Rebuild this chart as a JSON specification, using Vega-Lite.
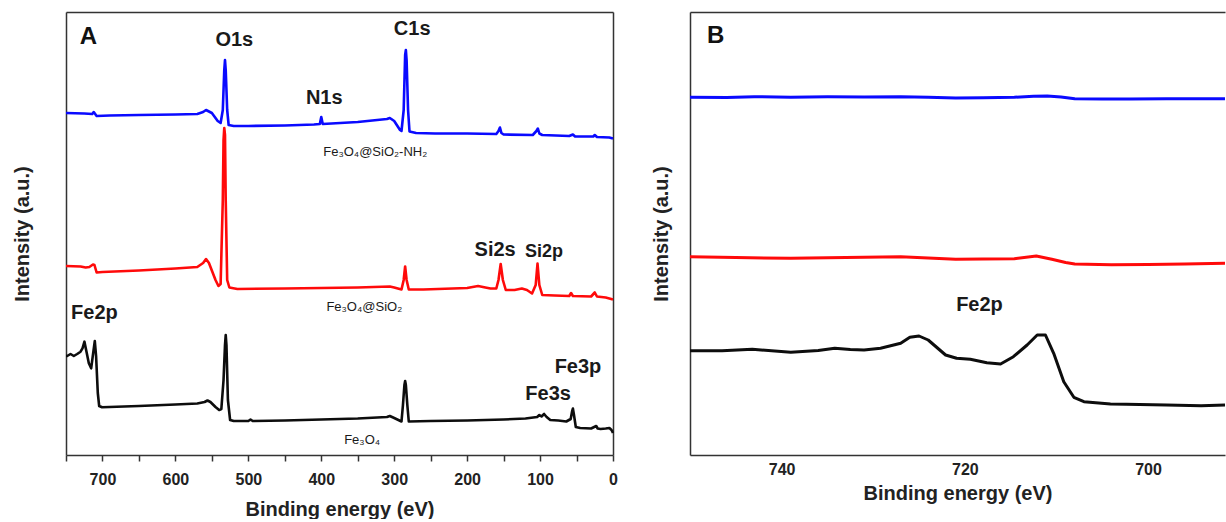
{
  "$schema": "https://vega.github.io/schema/vega-lite/v6.json",
  "padding": {"left": 12, "top": 12, "right": 0, "bottom": 0},
  "spacing": 33,
  "config": {
    "font": "Liberation Sans",
    "view": {"stroke": null},
    "axis": {
      "labelFont": "Liberation Sans", "labelFontWeight": "bold", "labelFontSize": 16, "labelColor": "#222",
      "titleFont": "Liberation Sans", "titleFontWeight": "bold", "titleFontSize": 20, "titleColor": "#222",
      "grid": false, "domainColor": "#333", "domainWidth": 1.5, "tickColor": "#333", "tickWidth": 1.5, "labelFlush": false
    }
  },
  "datasets": {
    "survey": [
      {"E":750,"I":342,"s":"NH2"},{"E":725,"I":341.5,"s":"NH2"},{"E":714,"I":341,"s":"NH2"},{"E":712,"I":343,"s":"NH2"},{"E":708,"I":339,"s":"NH2"},{"E":690,"I":339.5,"s":"NH2"},{"E":650,"I":340,"s":"NH2"},{"E":600,"I":340.5,"s":"NH2"},{"E":570,"I":341,"s":"NH2"},{"E":562,"I":343,"s":"NH2"},{"E":558,"I":345,"s":"NH2"},{"E":550,"I":342,"s":"NH2"},{"E":542,"I":334,"s":"NH2"},{"E":538,"I":332,"s":"NH2"},{"E":535,"I":345,"s":"NH2"},{"E":533,"I":385,"s":"NH2"},{"E":532,"I":395,"s":"NH2"},{"E":531,"I":385,"s":"NH2"},{"E":529,"I":345,"s":"NH2"},{"E":527,"I":330,"s":"NH2"},{"E":520,"I":329,"s":"NH2"},{"E":500,"I":329,"s":"NH2"},{"E":450,"I":329.5,"s":"NH2"},{"E":410,"I":330.5,"s":"NH2"},{"E":402,"I":331,"s":"NH2"},{"E":400,"I":338,"s":"NH2"},{"E":398,"I":331,"s":"NH2"},{"E":350,"I":333,"s":"NH2"},{"E":310,"I":336,"s":"NH2"},{"E":306,"I":337,"s":"NH2"},{"E":300,"I":334,"s":"NH2"},{"E":292,"I":325,"s":"NH2"},{"E":290,"I":324,"s":"NH2"},{"E":287,"I":345,"s":"NH2"},{"E":285,"I":400,"s":"NH2"},{"E":284,"I":405,"s":"NH2"},{"E":283,"I":395,"s":"NH2"},{"E":281,"I":345,"s":"NH2"},{"E":279,"I":323.5,"s":"NH2"},{"E":270,"I":322,"s":"NH2"},{"E":244,"I":321.5,"s":"NH2"},{"E":200,"I":321.5,"s":"NH2"},{"E":160,"I":321,"s":"NH2"},{"E":157,"I":324,"s":"NH2"},{"E":155,"I":327.5,"s":"NH2"},{"E":153,"I":322,"s":"NH2"},{"E":150,"I":320.5,"s":"NH2"},{"E":110,"I":320,"s":"NH2"},{"E":105,"I":324,"s":"NH2"},{"E":103,"I":326.5,"s":"NH2"},{"E":101,"I":321.5,"s":"NH2"},{"E":97,"I":320,"s":"NH2"},{"E":60,"I":319,"s":"NH2"},{"E":55,"I":320.5,"s":"NH2"},{"E":52,"I":318.5,"s":"NH2"},{"E":27,"I":318.5,"s":"NH2"},{"E":25,"I":320,"s":"NH2"},{"E":22,"I":318,"s":"NH2"},{"E":5,"I":317.5,"s":"NH2"},{"E":0,"I":316.5,"s":"NH2"},
      {"E":750,"I":189,"s":"SiO2"},{"E":730,"I":188.5,"s":"SiO2"},{"E":723,"I":187.5,"s":"SiO2"},{"E":718,"I":188,"s":"SiO2"},{"E":713,"I":190.5,"s":"SiO2"},{"E":711,"I":190,"s":"SiO2"},{"E":708,"I":182.5,"s":"SiO2"},{"E":700,"I":183,"s":"SiO2"},{"E":650,"I":184.5,"s":"SiO2"},{"E":600,"I":186.5,"s":"SiO2"},{"E":570,"I":188,"s":"SiO2"},{"E":562,"I":192,"s":"SiO2"},{"E":558,"I":196,"s":"SiO2"},{"E":554,"I":192,"s":"SiO2"},{"E":545,"I":175,"s":"SiO2"},{"E":541,"I":169,"s":"SiO2"},{"E":538,"I":171,"s":"SiO2"},{"E":535,"I":255,"s":"SiO2"},{"E":534,"I":315,"s":"SiO2"},{"E":533,"I":327,"s":"SiO2"},{"E":532,"I":320,"s":"SiO2"},{"E":531,"I":255,"s":"SiO2"},{"E":529,"I":175,"s":"SiO2"},{"E":526,"I":167.5,"s":"SiO2"},{"E":515,"I":166,"s":"SiO2"},{"E":450,"I":166.5,"s":"SiO2"},{"E":400,"I":167,"s":"SiO2"},{"E":350,"I":167.5,"s":"SiO2"},{"E":306,"I":168.5,"s":"SiO2"},{"E":300,"I":167.5,"s":"SiO2"},{"E":290,"I":165.5,"s":"SiO2"},{"E":287,"I":175,"s":"SiO2"},{"E":285,"I":188.5,"s":"SiO2"},{"E":283,"I":175,"s":"SiO2"},{"E":280,"I":165.5,"s":"SiO2"},{"E":260,"I":165.5,"s":"SiO2"},{"E":200,"I":167,"s":"SiO2"},{"E":185,"I":169,"s":"SiO2"},{"E":175,"I":167.5,"s":"SiO2"},{"E":168,"I":166.5,"s":"SiO2"},{"E":160,"I":166.5,"s":"SiO2"},{"E":157,"I":175,"s":"SiO2"},{"E":154,"I":191,"s":"SiO2"},{"E":151,"I":175,"s":"SiO2"},{"E":147,"I":165,"s":"SiO2"},{"E":135,"I":165,"s":"SiO2"},{"E":125,"I":166.5,"s":"SiO2"},{"E":118,"I":165,"s":"SiO2"},{"E":111,"I":161.5,"s":"SiO2"},{"E":106,"I":170,"s":"SiO2"},{"E":103.5,"I":191.5,"s":"SiO2"},{"E":101,"I":170,"s":"SiO2"},{"E":97,"I":160,"s":"SiO2"},{"E":80,"I":159.5,"s":"SiO2"},{"E":60,"I":159,"s":"SiO2"},{"E":57.5,"I":162,"s":"SiO2"},{"E":55,"I":159,"s":"SiO2"},{"E":30,"I":158.5,"s":"SiO2"},{"E":25,"I":162.5,"s":"SiO2"},{"E":22,"I":158.5,"s":"SiO2"},{"E":10,"I":157.5,"s":"SiO2"},{"E":0,"I":155.5,"s":"SiO2"},
      {"E":750,"I":99,"s":"Fe3O4"},{"E":748.4,"I":99,"s":"Fe3O4"},{"E":743.8,"I":101,"s":"Fe3O4"},{"E":739.3,"I":99,"s":"Fe3O4"},{"E":734.7,"I":101,"s":"Fe3O4"},{"E":730.1,"I":103.3,"s":"Fe3O4"},{"E":727.4,"I":106.7,"s":"Fe3O4"},{"E":724.7,"I":113.3,"s":"Fe3O4"},{"E":721.9,"I":103.3,"s":"Fe3O4"},{"E":718.7,"I":91.7,"s":"Fe3O4"},{"E":715.5,"I":86.7,"s":"Fe3O4"},{"E":712.8,"I":101.7,"s":"Fe3O4"},{"E":710.5,"I":114,"s":"Fe3O4"},{"E":708.7,"I":98.3,"s":"Fe3O4"},{"E":706.4,"I":62,"s":"Fe3O4"},{"E":704.5,"I":49,"s":"Fe3O4"},{"E":700.5,"I":47.7,"s":"Fe3O4"},{"E":650,"I":49,"s":"Fe3O4"},{"E":600,"I":50.5,"s":"Fe3O4"},{"E":570,"I":51.5,"s":"Fe3O4"},{"E":560,"I":53,"s":"Fe3O4"},{"E":556,"I":54.5,"s":"Fe3O4"},{"E":552,"I":53,"s":"Fe3O4"},{"E":545,"I":48,"s":"Fe3O4"},{"E":540,"I":45,"s":"Fe3O4"},{"E":537,"I":46,"s":"Fe3O4"},{"E":534,"I":75,"s":"Fe3O4"},{"E":532,"I":110,"s":"Fe3O4"},{"E":531,"I":120,"s":"Fe3O4"},{"E":530,"I":110,"s":"Fe3O4"},{"E":528,"I":55,"s":"Fe3O4"},{"E":525,"I":35,"s":"Fe3O4"},{"E":520,"I":34,"s":"Fe3O4"},{"E":500,"I":34,"s":"Fe3O4"},{"E":497,"I":35.5,"s":"Fe3O4"},{"E":494,"I":34,"s":"Fe3O4"},{"E":450,"I":34.5,"s":"Fe3O4"},{"E":400,"I":35.5,"s":"Fe3O4"},{"E":350,"I":36.5,"s":"Fe3O4"},{"E":310,"I":38,"s":"Fe3O4"},{"E":306,"I":39,"s":"Fe3O4"},{"E":300,"I":37,"s":"Fe3O4"},{"E":290,"I":33.5,"s":"Fe3O4"},{"E":288,"I":50,"s":"Fe3O4"},{"E":286,"I":70,"s":"Fe3O4"},{"E":285,"I":74,"s":"Fe3O4"},{"E":284,"I":70,"s":"Fe3O4"},{"E":282,"I":50,"s":"Fe3O4"},{"E":280,"I":33.5,"s":"Fe3O4"},{"E":250,"I":34,"s":"Fe3O4"},{"E":200,"I":34.5,"s":"Fe3O4"},{"E":150,"I":35.5,"s":"Fe3O4"},{"E":120,"I":36.5,"s":"Fe3O4"},{"E":104,"I":38,"s":"Fe3O4"},{"E":101,"I":40,"s":"Fe3O4"},{"E":98,"I":38.5,"s":"Fe3O4"},{"E":94.5,"I":41,"s":"Fe3O4"},{"E":91,"I":38,"s":"Fe3O4"},{"E":86,"I":35,"s":"Fe3O4"},{"E":75,"I":34.5,"s":"Fe3O4"},{"E":64,"I":33.5,"s":"Fe3O4"},{"E":58,"I":36,"s":"Fe3O4"},{"E":56,"I":44,"s":"Fe3O4"},{"E":55,"I":46.5,"s":"Fe3O4"},{"E":53.5,"I":40,"s":"Fe3O4"},{"E":51,"I":28,"s":"Fe3O4"},{"E":45,"I":27,"s":"Fe3O4"},{"E":30,"I":26.5,"s":"Fe3O4"},{"E":23,"I":29,"s":"Fe3O4"},{"E":21,"I":26.5,"s":"Fe3O4"},{"E":17,"I":26,"s":"Fe3O4"},{"E":10,"I":26.5,"s":"Fe3O4"},{"E":5,"I":27,"s":"Fe3O4"},{"E":2,"I":25,"s":"Fe3O4"},{"E":0,"I":22,"s":"Fe3O4"}
    ],
    "fe2p": [
      {"E":750,"I":357.7,"s":"NH2"},{"E":746,"I":357.5,"s":"NH2"},{"E":743,"I":358.3,"s":"NH2"},{"E":739,"I":357.8,"s":"NH2"},{"E":735,"I":358.3,"s":"NH2"},{"E":731,"I":358,"s":"NH2"},{"E":727,"I":358.3,"s":"NH2"},{"E":724,"I":357.7,"s":"NH2"},{"E":721,"I":357,"s":"NH2"},{"E":718,"I":357.2,"s":"NH2"},{"E":714.6,"I":357.7,"s":"NH2"},{"E":712.5,"I":358.7,"s":"NH2"},{"E":711,"I":359,"s":"NH2"},{"E":709.5,"I":358,"s":"NH2"},{"E":708,"I":356.3,"s":"NH2"},{"E":705,"I":356,"s":"NH2"},{"E":702,"I":356,"s":"NH2"},{"E":698,"I":356.3,"s":"NH2"},{"E":694,"I":356.2,"s":"NH2"},{"E":691.6,"I":356.3,"s":"NH2"},
      {"E":750,"I":198.3,"s":"SiO2"},{"E":745,"I":197.5,"s":"SiO2"},{"E":739,"I":196.7,"s":"SiO2"},{"E":733,"I":197.5,"s":"SiO2"},{"E":727,"I":198.3,"s":"SiO2"},{"E":724,"I":197,"s":"SiO2"},{"E":721,"I":195.7,"s":"SiO2"},{"E":718,"I":196,"s":"SiO2"},{"E":714.6,"I":196.3,"s":"SiO2"},{"E":712.2,"I":199,"s":"SiO2"},{"E":710.5,"I":195.7,"s":"SiO2"},{"E":709,"I":192.5,"s":"SiO2"},{"E":708,"I":191,"s":"SiO2"},{"E":704,"I":190.3,"s":"SiO2"},{"E":700,"I":190.5,"s":"SiO2"},{"E":696,"I":191,"s":"SiO2"},{"E":691.6,"I":191.7,"s":"SiO2"},
      {"E":750,"I":104.3,"s":"Fe3O4"},{"E":746.5,"I":104.3,"s":"Fe3O4"},{"E":743.2,"I":105.7,"s":"Fe3O4"},{"E":739,"I":102.7,"s":"Fe3O4"},{"E":736,"I":104.5,"s":"Fe3O4"},{"E":734.2,"I":106.7,"s":"Fe3O4"},{"E":732.5,"I":105.5,"s":"Fe3O4"},{"E":731,"I":105,"s":"Fe3O4"},{"E":729.2,"I":106.7,"s":"Fe3O4"},{"E":727,"I":111.7,"s":"Fe3O4"},{"E":726,"I":117.7,"s":"Fe3O4"},{"E":725,"I":119,"s":"Fe3O4"},{"E":724,"I":115,"s":"Fe3O4"},{"E":722.1,"I":100,"s":"Fe3O4"},{"E":720.9,"I":96.7,"s":"Fe3O4"},{"E":719.4,"I":95.7,"s":"Fe3O4"},{"E":717.6,"I":92.3,"s":"Fe3O4"},{"E":716.1,"I":91,"s":"Fe3O4"},{"E":714.7,"I":98.3,"s":"Fe3O4"},{"E":713.2,"I":110,"s":"Fe3O4"},{"E":712.1,"I":120,"s":"Fe3O4"},{"E":711.2,"I":120,"s":"Fe3O4"},{"E":710.3,"I":101.7,"s":"Fe3O4"},{"E":709.2,"I":73.3,"s":"Fe3O4"},{"E":708.1,"I":57.7,"s":"Fe3O4"},{"E":707,"I":53.3,"s":"Fe3O4"},{"E":704.1,"I":51,"s":"Fe3O4"},{"E":702.4,"I":50.7,"s":"Fe3O4"},{"E":698,"I":50,"s":"Fe3O4"},{"E":694.2,"I":49.3,"s":"Fe3O4"},{"E":691.6,"I":50,"s":"Fe3O4"}
    ],
    "labelsA": [
      {"E":719.2,"I":418,"t":"A","k":"panel"},
      {"E":519.2,"I":415,"t":"O1s","k":"peak"},
      {"E":275.3,"I":426.5,"t":"C1s","k":"peak"},
      {"E":395.9,"I":357.5,"t":"N1s","k":"peak"},
      {"E":161.6,"I":205,"t":"Si2s","k":"peak"},
      {"E":94.5,"I":203,"t":"Si2p","k":"small"},
      {"E":711,"I":142,"t":"Fe2p","k":"peak"},
      {"E":48,"I":88,"t":"Fe3p","k":"peak"},
      {"E":89,"I":61,"t":"Fe3s","k":"peak"},
      {"E":326,"I":303,"t":"Fe₃O₄@SiO₂-NH₂","k":"sample"},
      {"E":341,"I":148,"t":"Fe₃O₄@SiO₂","k":"sample"},
      {"E":344,"I":15,"t":"Fe₃O₄","k":"sample"}
    ],
    "labelsB": [
      {"E":747.2,"I":419,"t":"B","k":"panel"},
      {"E":718.4,"I":150,"t":"Fe2p","k":"peak"}
    ]
  },
  "hconcat": [
    {
      "width": 547,
      "height": 443,
      "resolve": {"axis": {"x": "independent", "y": "independent"}},
      "layer": [
        {
          "data": {"name": "survey"},
          "mark": {"type": "line", "strokeWidth": 2.6, "strokeJoin": "round"},
          "encoding": {
            "x": {"field": "E", "type": "quantitative", "scale": {"domain": [0, 750], "reverse": true, "nice": false, "zero": false},
                  "axis": {"title": "Binding energy (eV)", "values": [750,700,650,600,550,500,450,400,350,300,250,200,150,100,50,0], "labelExpr": "datum.value % 100 === 0 ? datum.label : ''", "tickSize": 6, "labelPadding": 10, "titlePadding": 12, "domain": true}},
            "y": {"field": "I", "type": "quantitative", "scale": {"domain": [0, 443], "nice": false, "zero": false},
                  "axis": {"title": "Intensity (a.u.)", "labels": false, "ticks": false, "domain": true, "titlePadding": 34}},
            "color": {"field": "s", "type": "nominal", "scale": {"domain": ["NH2", "SiO2", "Fe3O4"], "range": ["#0a0aff", "#ff0a0a", "#0d0d0d"]}, "legend": null}
          }
        },
        {
          "data": {"name": "labelsA"},
          "transform": [{"filter": "datum.k === 'peak'"}],
          "mark": {"type": "text", "font": "Liberation Sans", "fontSize": 20, "fontWeight": "bold", "color": "#1a1a1a", "align": "center", "baseline": "middle"},
          "encoding": {
            "x": {"field": "E", "type": "quantitative", "axis": {"orient": "top", "labels": false, "ticks": false, "title": null, "domain": true}},
            "y": {"field": "I", "type": "quantitative", "axis": {"orient": "right", "labels": false, "ticks": false, "title": null, "domain": true}},
            "text": {"field": "t"}
          }
        },
        {
          "data": {"name": "labelsA"},
          "transform": [{"filter": "datum.k === 'small'"}],
          "mark": {"type": "text", "font": "Liberation Sans", "fontSize": 18, "fontWeight": "bold", "color": "#1a1a1a", "align": "center", "baseline": "middle"},
          "encoding": {
            "x": {"field": "E", "type": "quantitative", "axis": null},
            "y": {"field": "I", "type": "quantitative", "axis": null},
            "text": {"field": "t"}
          }
        },
        {
          "data": {"name": "labelsA"},
          "transform": [{"filter": "datum.k === 'sample'"}],
          "mark": {"type": "text", "font": "Liberation Sans", "fontSize": 13, "color": "#1a1a1a", "align": "center", "baseline": "middle"},
          "encoding": {
            "x": {"field": "E", "type": "quantitative", "axis": null},
            "y": {"field": "I", "type": "quantitative", "axis": null},
            "text": {"field": "t"}
          }
        },
        {
          "data": {"name": "labelsA"},
          "transform": [{"filter": "datum.k === 'panel'"}],
          "mark": {"type": "text", "font": "Liberation Sans", "fontSize": 24, "fontWeight": "bold", "color": "#111", "align": "center", "baseline": "middle"},
          "encoding": {
            "x": {"field": "E", "type": "quantitative", "axis": null},
            "y": {"field": "I", "type": "quantitative", "axis": null},
            "text": {"field": "t"}
          }
        }
      ]
    },
    {
      "width": 535,
      "height": 443,
      "resolve": {"axis": {"x": "independent", "y": "independent"}},
      "layer": [
        {
          "data": {"name": "fe2p"},
          "mark": {"type": "line", "strokeWidth": 3, "strokeJoin": "round"},
          "encoding": {
            "x": {"field": "E", "type": "quantitative", "scale": {"domain": [691.6, 750], "reverse": true, "nice": false, "zero": false},
                  "axis": {"title": "Binding energy (eV)", "values": [740, 720, 700], "ticks": false, "tickSize": 0, "labelPadding": 6, "titlePadding": 6, "domain": true}},
            "y": {"field": "I", "type": "quantitative", "scale": {"domain": [0, 443], "nice": false, "zero": false},
                  "axis": {"title": "Intensity (a.u.)", "labels": false, "ticks": false, "domain": true, "titlePadding": 19}},
            "color": {"field": "s", "type": "nominal", "scale": {"domain": ["NH2", "SiO2", "Fe3O4"], "range": ["#0a0aff", "#ff0a0a", "#0d0d0d"]}, "legend": null}
          }
        },
        {
          "data": {"name": "labelsB"},
          "transform": [{"filter": "datum.k === 'peak'"}],
          "mark": {"type": "text", "font": "Liberation Sans", "fontSize": 20, "fontWeight": "bold", "color": "#1a1a1a", "align": "center", "baseline": "middle"},
          "encoding": {
            "x": {"field": "E", "type": "quantitative", "axis": {"orient": "top", "labels": false, "ticks": false, "title": null, "domain": true}},
            "y": {"field": "I", "type": "quantitative", "axis": null},
            "text": {"field": "t"}
          }
        },
        {
          "data": {"name": "labelsB"},
          "transform": [{"filter": "datum.k === 'panel'"}],
          "mark": {"type": "text", "font": "Liberation Sans", "fontSize": 24, "fontWeight": "bold", "color": "#111", "align": "center", "baseline": "middle"},
          "encoding": {
            "x": {"field": "E", "type": "quantitative", "axis": null},
            "y": {"field": "I", "type": "quantitative", "axis": null},
            "text": {"field": "t"}
          }
        }
      ]
    }
  ]
}
